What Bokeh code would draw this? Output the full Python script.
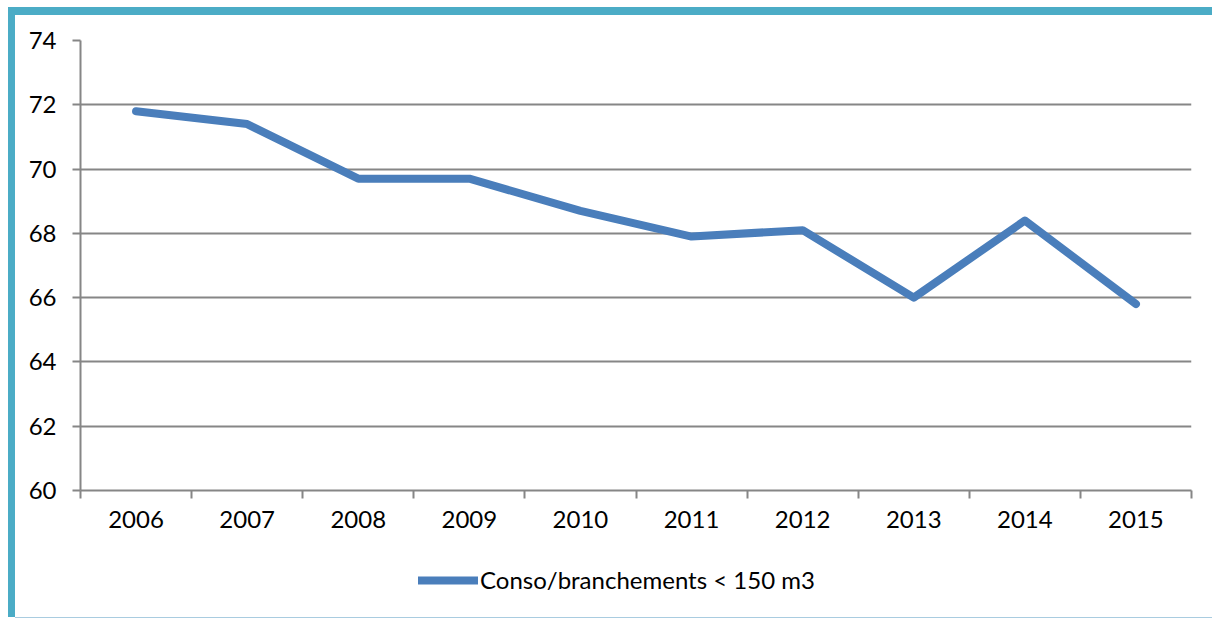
from bokeh.plotting import figure
from bokeh.models import (Range1d, FixedTicker, Legend, LegendItem, ColumnDataSource,
                          Div, Spacer)
from bokeh.layouts import column, row
from bokeh.embed import file_html
from bokeh.resources import INLINE

years = ["2006", "2007", "2008", "2009", "2010", "2011", "2012", "2013", "2014", "2015"]
conso = [71.8, 71.4, 69.7, 69.7, 68.7, 67.9, 68.1, 66.0, 68.4, 65.8]
y_ticks = [60, 62, 64, 66, 68, 70, 72, 74]
series_name = "Conso/branchements < 150 m3"

FONT = "Lato"
FS = "24px"
GRID = "#868686"
TEAL = "#4BACC6"
LINE = "#4A7EBB"
LW = 8

# main chart, placed at page (15, 15) inside the teal bars
p = figure(width=1197, height=530, output_backend="svg", toolbar_location=None,
           x_range=Range1d(0, len(years)), y_range=Range1d(60, 74),
           min_border_left=65, min_border_right=21, min_border_top=25,
           min_border_bottom=55)
p.outline_line_color = None
p.background_fill_color = "white"
p.border_fill_color = "white"

xs = [i + 0.5 for i in range(len(years))]
src = ColumnDataSource(dict(x=xs, y=conso))
p.line("x", "y", source=src, line_color=LINE, line_width=LW,
       line_cap="round", line_join="round")

# x axis: labels at category centres, ticks at category boundaries
xa = p.xaxis[0]
xa.ticker = FixedTicker(ticks=xs, minor_ticks=list(range(len(years) + 1)))
xa.major_label_overrides = {x: y for x, y in zip(xs, years)}
xa.major_tick_line_color = None
xa.minor_tick_line_color = GRID
xa.minor_tick_line_width = 2
xa.minor_tick_out = 8
xa.minor_tick_in = 0
xa.axis_line_color = GRID
xa.axis_line_width = 2
xa.major_label_text_font = FONT
xa.major_label_text_font_size = FS
xa.major_label_text_color = "black"
xa.major_label_standoff = 12

# y axis
ya = p.yaxis[0]
ya.ticker = FixedTicker(ticks=y_ticks)
ya.axis_line_color = GRID
ya.axis_line_width = 2
ya.major_tick_line_color = GRID
ya.major_tick_line_width = 2
ya.major_tick_out = 8
ya.major_tick_in = 0
ya.minor_tick_line_color = None
ya.major_label_text_font = FONT
ya.major_label_text_font_size = FS
ya.major_label_text_color = "black"
ya.major_label_standoff = 16

p.xgrid.grid_line_color = None
p.ygrid.ticker = FixedTicker(ticks=y_ticks)
p.ygrid.grid_line_color = GRID
p.ygrid.grid_line_width = 2

# legend strip below the chart (same series, drawn outside the strip's visible range)
p2 = figure(width=1197, height=72, output_backend="svg", toolbar_location=None,
            x_axis_type=None, y_axis_type=None,
            x_range=Range1d(0, 1), y_range=Range1d(0, 1),
            min_border_left=0, min_border_right=0, min_border_top=0,
            min_border_bottom=0)
p2.outline_line_color = None
p2.xgrid.grid_line_color = None
p2.ygrid.grid_line_color = None
p2.background_fill_color = "white"
p2.border_fill_color = "white"
key = p2.line("x", "y", source=src, line_color=LINE, line_width=LW, line_cap="round")
legend = Legend(items=[LegendItem(label=series_name, renderers=[key])],
                location=(338, 23), orientation="horizontal",
                label_text_font=FONT, label_text_font_size=FS,
                label_text_color="black", glyph_width=60, glyph_height=20,
                label_standoff=2, padding=0, margin=0,
                border_line_color=None, background_fill_alpha=0)
p2.add_layout(legend, "center")

top_bar = Div(text="", width=1204, height=8, margin=0,
              styles={"background-color": TEAL})
left_bar = Div(text="", width=7, height=602, margin=0,
               styles={"background-color": TEAL})
bottom_line = Div(text="", width=1197, height=1, margin=0,
                  styles={"background-color": "#A9CCE0"})

layout = column(
    Spacer(width=1212, height=7, margin=0),
    row(Spacer(width=8, height=8, margin=0), top_bar),
    row(Spacer(width=8, height=602, margin=0), left_bar, column(p, p2)),
    row(Spacer(width=15, height=1, margin=0), bottom_line),
)

open("out.html", "w").write(file_html(layout, INLINE))
